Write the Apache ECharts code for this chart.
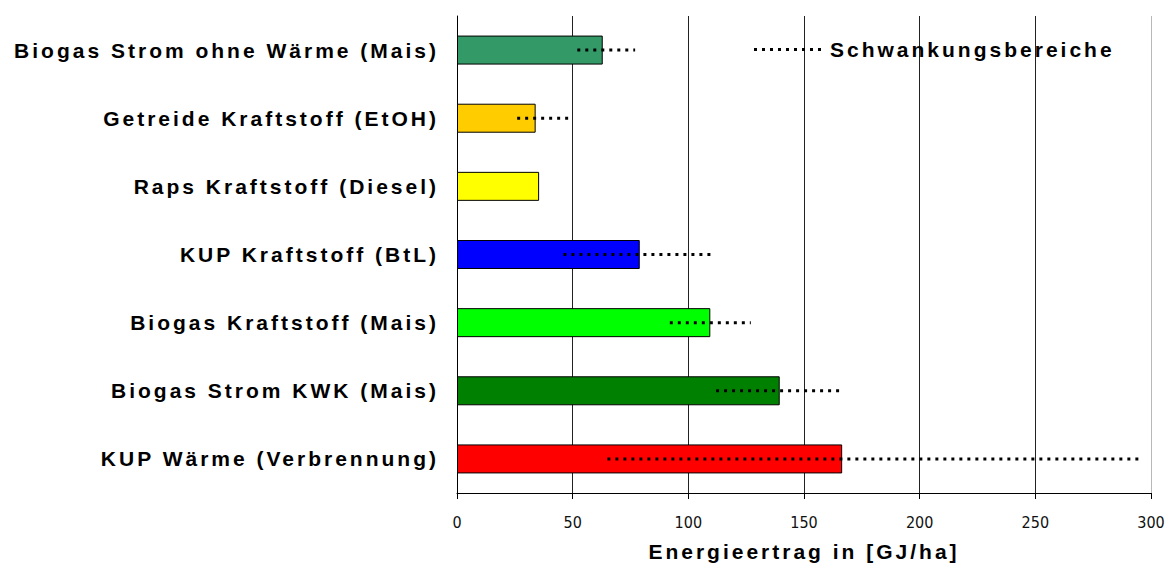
<!DOCTYPE html>
<html>
<head>
<meta charset="utf-8">
<title>Energieertrag</title>
<script src="https://cdn.jsdelivr.net/npm/echarts@6/dist/echarts.min.js"></script>
<style>
    html, body { margin: 0; padding: 0; background: #fff; }
    #main { width: 1168px; height: 571px; }
    /* the bold texts in the original are set with wide tracking */
    #main text[style*="bold"] { letter-spacing: 3px; }
</style>
</head>
<body>
<div id="main"></div>
<script>
// categories, top to bottom
var categories = [
    'Biogas Strom ohne Wärme (Mais)',
    'Getreide Kraftstoff (EtOH)',
    'Raps Kraftstoff (Diesel)',
    'KUP Kraftstoff (BtL)',
    'Biogas Kraftstoff (Mais)',
    'Biogas Strom KWK (Mais)',
    'KUP Wärme (Verbrennung)'
];
// Energieertrag in GJ/ha
var energyYield = [63, 34, 35.5, 79, 109.5, 139.5, 166.5];
// Schwankungsbereiche (low / high), null = none
var rangeLow = [52, 26, null, 46, 92, 112, 65];
var rangeHigh = [77, 50, null, 111, 127, 166, 296];
var barColors = ['#339966', '#ffcc00', '#ffff00', '#0000ff', '#00ff00', '#008000', '#ff0000'];

var rangeData = [];
categories.forEach(function (c, i) {
    if (rangeLow[i] != null) {
        rangeData.push([rangeLow[i], rangeHigh[i], i]);
    }
});

var dotsIcon = 'path://M0,0h3v3h-3z M8,0h3v3h-3z M16,0h3v3h-3z M24,0h3v3h-3z M32,0h3v3h-3z ' +
    'M40,0h3v3h-3z M48,0h3v3h-3z M56,0h3v3h-3z M64,0h3v3h-3z';

var myChart = echarts.init(document.getElementById('main'), null, {renderer: 'svg'});
myChart.setOption({
    animation: false,
    backgroundColor: '#fff',
    textStyle: {fontFamily: 'Arial, "Liberation Sans", sans-serif'},
    grid: {left: 457, right: 17, top: 16, bottom: 78},
    legend: {
        left: 749,
        top: 34,
        data: [{name: 'Schwankungsbereiche', icon: dotsIcon}],
        itemWidth: 67,
        itemHeight: 3,
        itemStyle: {color: '#000'},
        textStyle: {fontSize: 21, fontWeight: 'bold', color: '#000', padding: [0, 0, 0, 4]}
    },
    xAxis: {
        type: 'value',
        min: 0,
        max: 300,
        interval: 50,
        name: 'Energieertrag in [GJ/ha]',
        nameLocation: 'middle',
        nameGap: 48,
        nameTextStyle: {fontSize: 21, fontWeight: 'bold', color: '#000'},
        axisLine: {show: true, lineStyle: {color: '#000', width: 1}},
        axisTick: {show: true, length: 6, lineStyle: {color: '#000'}},
        axisLabel: {
            margin: 21,
            fontSize: 16,
            color: '#111',
            fontFamily: '"Liberation Sans Narrow", "DejaVu Sans Condensed", Arial, sans-serif'
        },
        splitLine: {
            show: true,
            lineStyle: {color: ['#000', '#222', '#222', '#222', '#222', '#222', '#b8b8b8'], width: 1}
        }
    },
    yAxis: {
        type: 'category',
        inverse: true,
        data: categories,
        axisLine: {lineStyle: {color: '#000', width: 1}},
        axisTick: {length: 7, lineStyle: {color: '#000'}},
        axisLabel: {interval: 0, margin: 18, fontSize: 21, fontWeight: 'bold', color: '#000'}
    },
    series: [
        {
            type: 'bar',
            barWidth: 29,
            data: energyYield.map(function (v, i) {
                return {value: v, itemStyle: {color: barColors[i]}};
            }),
            itemStyle: {borderColor: '#000', borderWidth: 1}
        },
        {
            name: 'Schwankungsbereiche',
            type: 'custom',
            z: 5,
            encode: {x: [0, 1], y: 2},
            data: rangeData,
            renderItem: function (params, api) {
                var start = api.coord([api.value(0), api.value(2)]);
                var end = api.coord([api.value(1), api.value(2)]);
                return {
                    type: 'line',
                    shape: {x1: start[0], y1: start[1], x2: end[0], y2: end[1]},
                    style: {stroke: '#000', lineWidth: 3, lineDash: [3, 5]}
                };
            }
        }
    ]
});
</script>
</body>
</html>
